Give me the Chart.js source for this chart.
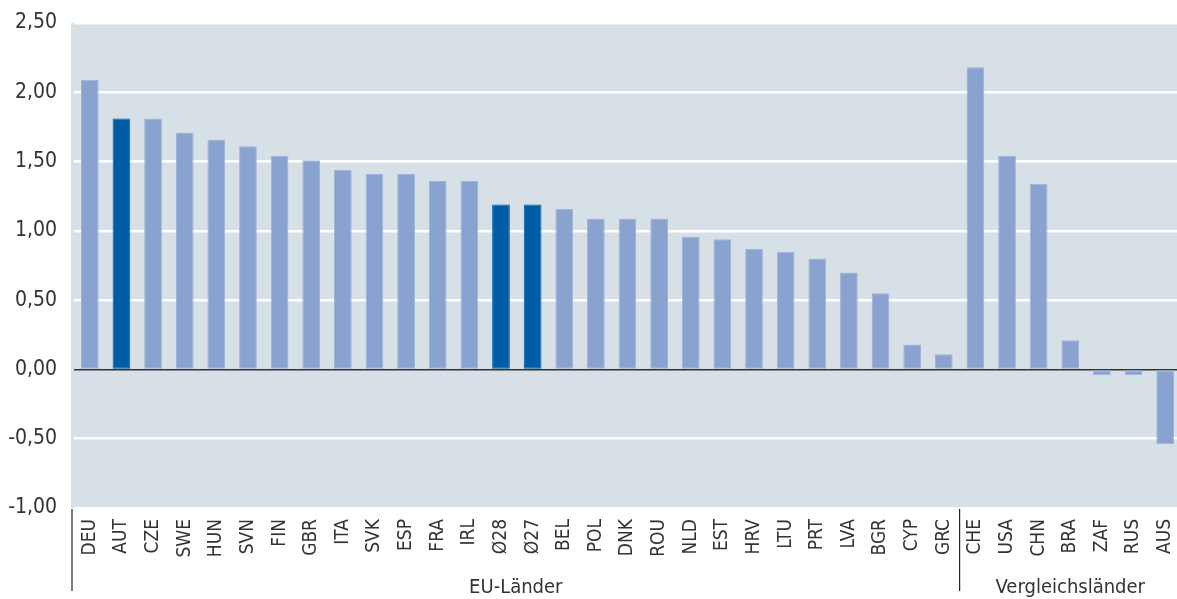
<!DOCTYPE html>
<html lang="de">
<head>
<meta charset="utf-8">
<title>EU-Länder und Vergleichsländer</title>
<script src="https://cdn.jsdelivr.net/npm/chart.js@4.4.1/dist/chart.umd.min.js"></script>
<style>
    html, body { margin: 0; padding: 0; background: #ffffff; overflow: hidden; }
    #wrap { width: 1177px; height: 599px; overflow: hidden; }
    #inner { width: 1181px; height: 599px; position: relative; }
</style>
</head>
<body>
<div id="wrap"><div id="inner"><canvas id="chart"></canvas></div></div>
<script>
// Länder (EU zuerst, dann Vergleichsländer)
const laender = ['DEU', 'AUT', 'CZE', 'SWE', 'HUN', 'SVN', 'FIN', 'GBR', 'ITA', 'SVK', 'ESP',
    'FRA', 'IRL', 'Ø28', 'Ø27', 'BEL', 'POL', 'DNK', 'ROU', 'NLD', 'EST', 'HRV', 'LTU', 'PRT',
    'LVA', 'BGR', 'CYP', 'GRC', 'CHE', 'USA', 'CHN', 'BRA', 'ZAF', 'RUS', 'AUS'];

const werte = [2.09, 1.81, 1.81, 1.71, 1.66, 1.61, 1.54, 1.51, 1.44, 1.41, 1.41,
    1.36, 1.36, 1.19, 1.19, 1.16, 1.09, 1.09, 1.09, 0.96, 0.94, 0.87, 0.85, 0.80,
    0.70, 0.55, 0.18, 0.11, 2.18, 1.54, 1.34, 0.21, -0.04, -0.04, -0.54];

// hervorgehobene Balken: Österreich und die EU-Durchschnitte
const hervorgehoben = ['AUT', 'Ø28', 'Ø27'];

// Gruppen: Name und Anzahl der Länder
const gruppen = ['EU-Länder', 'Vergleichsländer'];
const gruppenGroesse = [28, 7];

const yTicks = [-1, -0.5, 0, 0.5, 1, 1.5, 2, 2.5];

const FONT = '"DejaVu Sans Condensed", "Liberation Sans Narrow", "Roboto", sans-serif';
const hell = '#8aa2cf';
const dunkel = '#005ca5';

// Hintergrund der Zeichenfläche (beginnt etwas links vom ersten Balkenfeld)
const hintergrund = {
    id: 'hintergrund',
    beforeDraw(chart) {
        const { ctx, chartArea: a } = chart;
        ctx.save();
        ctx.fillStyle = '#d6e0e6';
        ctx.fillRect(a.left - 3, a.top, a.right - a.left + 3, a.bottom - a.top);
        ctx.restore();
    }
};

// Trennlinien und Gruppenbeschriftung unter der x-Achse
const gruppenPlugin = {
    id: 'gruppen',
    afterDraw(chart) {
        const { ctx, chartArea: a, scales: { x } } = chart;
        const unten = 591;
        ctx.save();
        ctx.strokeStyle = '#222';
        ctx.lineWidth = 1.2;
        ctx.font = '20px ' + FONT;
        ctx.fillStyle = '#333';
        ctx.textAlign = 'center';
        ctx.textBaseline = 'middle';
        let start = 0;
        let links = a.left - 2;
        ctx.beginPath();
        ctx.moveTo(links, a.bottom + 1);
        ctx.lineTo(links, unten);
        ctx.stroke();
        gruppen.forEach((name, i) => {
            const ende = start + gruppenGroesse[i] - 1;
            let rechts;
            if (i < gruppen.length - 1) {
                rechts = (x.getPixelForValue(ende) + x.getPixelForValue(ende + 1)) / 2;
                ctx.beginPath();
                ctx.moveTo(rechts, a.bottom + 1);
                ctx.lineTo(rechts, unten);
                ctx.stroke();
            } else {
                rechts = a.right;
            }
            ctx.fillText(name, (links + rechts) / 2, 588);
            links = rechts;
            start = ende + 1;
        });
        ctx.restore();
    }
};

new Chart(document.getElementById('chart'), {
    type: 'bar',
    data: {
        labels: laender,
        datasets: [{
            data: werte,
            backgroundColor: laender.map(l => hervorgehoben.includes(l) ? dunkel : hell),
            borderColor: laender.map(l => hervorgehoben.includes(l) ? dunkel : '#9fb2d8'),
            borderWidth: 1,
            borderSkipped: false,
            barPercentage: 0.56,
            categoryPercentage: 1
        }]
    },
    options: {
        responsive: true,
        maintainAspectRatio: false,
        animation: false,
        layout: { padding: { top: 23, right: 0, left: 0, bottom: 0 } },
        plugins: {
            legend: { display: false },
            tooltip: { enabled: false }
        },
        scales: {
            x: {
                grid: { display: false, drawTicks: false },
                border: { display: false },
                ticks: {
                    color: '#333',
                    font: { family: FONT, size: 19 },
                    minRotation: 90,
                    maxRotation: 90,
                    autoSkip: false,
                    padding: 11
                },
                afterFit(scale) {
                    scale.height = 91;
                    scale.paddingLeft = 0;
                    scale.paddingRight = 0;
                }
            },
            y: {
                min: -1,
                max: 2.5,
                afterBuildTicks(scale) { scale.ticks = yTicks.map(v => ({ value: v })); },
                grid: {
                    drawTicks: false,
                    color: c => c.tick && c.tick.value === 0 ? '#333' : '#ffffff',
                    lineWidth: c => c.tick && c.tick.value === 0 ? 1.5 : 2.5
                },
                border: { display: false },
                ticks: {
                    color: '#333',
                    font: { family: FONT, size: 21 },
                    padding: 17,
                    callback: v => v.toFixed(2).replace('.', ',')
                },
                afterFit(scale) {
                    scale.width = 74;
                    scale.paddingTop = 0;
                    scale.paddingBottom = 0;
                }
            }
        }
    },
    plugins: [hintergrund, gruppenPlugin]
});
</script>
</body>
</html>
